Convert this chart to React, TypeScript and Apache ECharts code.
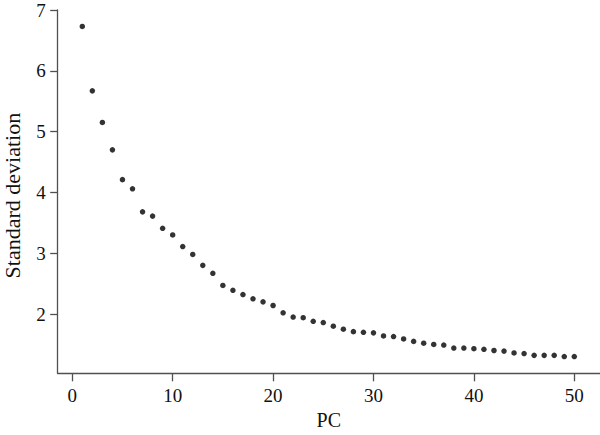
import React, { useEffect, useRef } from "react";
import * as echarts from "echarts";

const sdValues: number[] = [
  6.73, 5.67, 5.15, 4.7, 4.21, 4.06, 3.68, 3.61, 3.41, 3.3,
  3.11, 2.98, 2.8, 2.67, 2.47, 2.39, 2.32, 2.25, 2.2, 2.14,
  2.02, 1.95, 1.94, 1.88, 1.86, 1.8, 1.75, 1.71, 1.7, 1.69,
  1.64, 1.63, 1.59, 1.55, 1.52, 1.5, 1.49, 1.44, 1.44, 1.43,
  1.42, 1.4, 1.39, 1.36, 1.35, 1.32, 1.32, 1.32, 1.3, 1.3,
];
const pcNumbers: number[] = sdValues.map((_, i) => i + 1);
const xTicks: number[] = [0, 10, 20, 30, 40, 50];
const yTicks: number[] = [2, 3, 4, 5, 6, 7];

const FONT = "'Liberation Serif', 'Times New Roman', serif";
const AXIS_COLOR = "#505050";

export default function App() {
  const ref = useRef<HTMLDivElement>(null);
  useEffect(() => {
    if (!ref.current) return;
    const chart = echarts.init(ref.current, undefined, { renderer: "svg" });
    chart.setOption({
      animation: false,
      backgroundColor: "#ffffff",
      grid: {
        left: 57.7,
        right: 0,
        top: 10,
        bottom: 61.7,
        containLabel: false,
        outerBoundsMode: "none",
      },
      xAxis: {
        type: "value",
        min: -1.45,
        max: 52.56,
        name: "PC",
        nameLocation: "middle",
        nameGap: 35,
        nameTextStyle: { fontFamily: FONT, fontSize: 20, color: "#111" },
        axisLine: { show: true, onZero: false, lineStyle: { color: AXIS_COLOR, width: 1.3 } },
        axisTick: { show: true, length: 8, customValues: xTicks, lineStyle: { color: AXIS_COLOR, width: 1.3 } },
        axisLabel: { customValues: xTicks, margin: 13, fontFamily: FONT, fontSize: 19, color: "#111" },
        splitLine: { show: false },
      },
      yAxis: {
        type: "value",
        min: 1.025,
        max: 7,
        name: "Standard deviation",
        nameLocation: "middle",
        nameGap: 35,
        nameTextStyle: {
          fontFamily: FONT,
          fontSize: 22,
          lineHeight: 20,
          color: "#111",
          padding: [0, 8, 0, 0],
        },
        axisLine: { show: true, onZero: false, lineStyle: { color: AXIS_COLOR, width: 1.3 } },
        axisTick: { show: true, length: 7.5, customValues: yTicks, lineStyle: { color: AXIS_COLOR, width: 1.3 } },
        axisLabel: { customValues: yTicks, margin: 12, fontFamily: FONT, fontSize: 19, color: "#111" },
        splitLine: { show: false },
      },
      series: [
        {
          type: "scatter",
          symbol: "circle",
          symbolSize: 5.5,
          itemStyle: { color: "#000" },
          data: pcNumbers.map((pc, i) => [pc, sdValues[i]]),
        },
      ],
    });
    return () => chart.dispose();
  }, []);
  return (
    <div
      ref={ref}
      style={{ position: "fixed", left: 0, top: 0, width: 600, height: 435, background: "#fff" }}
    />
  );
}
